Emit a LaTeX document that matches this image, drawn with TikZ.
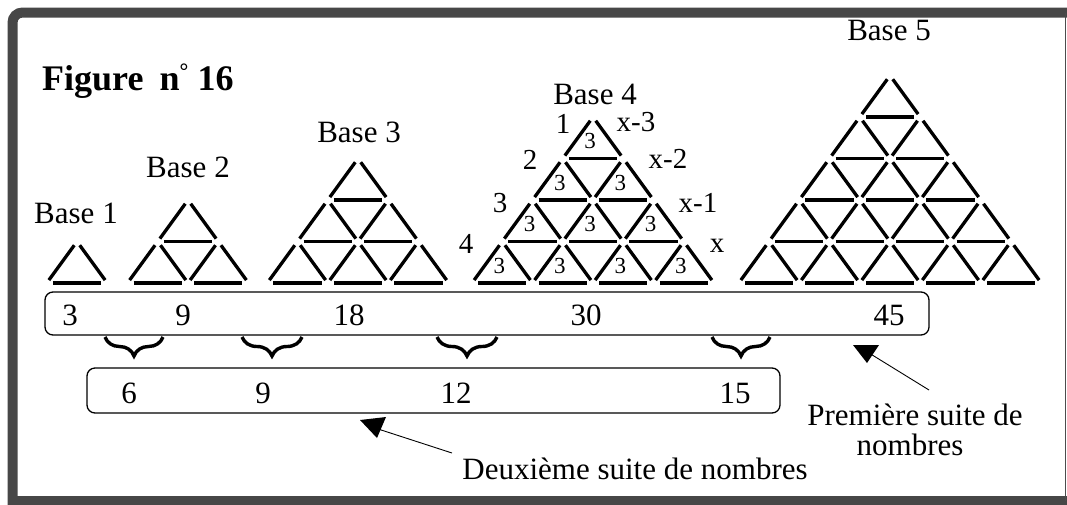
\documentclass[tikz,border=0pt]{standalone}
\usepackage{fontspec}
\setmainfont{Liberation Serif}
\usetikzlibrary{calc,decorations.pathreplacing}
\tikzset{
  stick/.style={line width=3.3pt, line cap=butt},
  lbl/.style={font=\fontsize{31}{37}\selectfont, inner sep=0pt, anchor=base},
  rowlbl/.style={font=\fontsize{29}{34}\selectfont, inner sep=0pt, anchor=base},
  tiny3/.style={font=\fontsize{23}{26}\selectfont, inner sep=0pt},
  seqbox/.style={draw, line width=1.3pt, rounded corners=8pt},
  brc/.style={decorate, decoration={brace, mirror, amplitude=19pt}, line width=3.4pt},
  frame/.style={draw=black!72, line width=10pt, line join=miter},
  pointer/.style={line width=0.9pt},
  headfill/.style={fill=black},
}
% \matchtri{centre x}{number of rows}
\newcommand\matchtri[2]{%
  \foreach \i in {1,...,#2}{%
    \foreach \j in {1,...,\i}{%
      \pgfmathsetmacro\ax{#1 + (\j - 1 - (\i-1)/2)*60.5}%
      \pgfmathsetmacro\ay{283 - (#2 - \i + 1)*41.5}%
      \coordinate (A) at (\ax,\ay);
      \coordinate (L) at (\ax-30.25,\ay+41.5);
      \coordinate (R) at (\ax+30.25,\ay+41.5);
      \draw[stick] ($(A)!0.09!(L)$) -- ($(A)!0.93!(L)$);
      \draw[stick] ($(A)!0.09!(R)$) -- ($(A)!0.93!(R)$);
      \draw[stick] ($(L)!0.1!(R)$) -- ($(L)!0.9!(R)$);
    }%
  }%
}
\begin{document}
\begin{tikzpicture}[x=1pt,y=-1pt]
\useasboundingbox (0,0) rectangle (1067,504);
% frame
\draw[frame] (1067,501) -- (12.5,501) -- (12.5,22.5)
  arc[start angle=180, end angle=270, radius=10] -- (1067,12.5);
\draw[line width=1.5pt, black!70] (1065.5,12.5) -- (1065.5,501);

% title
\node[lbl, anchor=base west, font=\fontsize{36}{42}\selectfont\bfseries] (title) at (42,90)
  {Figure\hspace{0.45em}n\raisebox{0.32em}{\fontsize{22}{24}\selectfont°}\hspace{0.25em}16};

% triangles
\matchtri{77}{1}
\matchtri{188}{2}
\matchtri{358}{3}
\matchtri{593}{4}
\matchtri{890}{5}

% base labels
\node[lbl] (b1) at (76,223) {Base 1};
\node[lbl] (b2) at (188,177) {Base 2};
\node[lbl] (b3) at (359,142) {Base 3};
\node[lbl] (b4) at (595,104) {Base 4};
\node[lbl] (b5) at (889,40) {Base 5};

% base 4 row labels
\node[rowlbl] (r1) at (563,133) {1};
\node[rowlbl] (r2) at (530,169) {2};
\node[rowlbl] (r3) at (500,212) {3};
\node[rowlbl] (r4) at (466,253) {4};
\node[rowlbl] (s1) at (636,131) {x-3};
\node[rowlbl] (s2) at (668,168) {x-2};
\node[rowlbl] (s3) at (698,212) {x-1};
\node[rowlbl] (s4) at (717,252) {x};

% small 3 in base 4
\foreach \i in {1,...,4}{%
  \foreach \j in {1,...,\i}{%
    \pgfmathsetmacro\ax{593 + (\j - 1 - (\i-1)/2)*60.5}%
    \pgfmathsetmacro\ay{283 - (4 - \i + 1)*41.5}%
    \node[tiny3] at (\ax-3,\ay+24) {3};
  }%
}

% sequence boxes
\draw[seqbox] (45,292) rectangle (929,335);
\draw[seqbox] (87,368) rectangle (780,413);

\node[lbl] (n3) at (70,325) {3};
\node[lbl] (n9) at (183,325) {9};
\node[lbl] (n18) at (349,325) {18};
\node[lbl] (n30) at (586,325) {30};
\node[lbl] (n45) at (889,325) {45};

\node[lbl] (d6) at (129,403) {6};
\node[lbl] (d9) at (263,403) {9};
\node[lbl] (d12) at (456,403) {12};
\node[lbl] (d15) at (735,403) {15};

% braces
\draw[brc] (105,337) -- (163,337);
\draw[brc] (242,337) -- (302,337);
\draw[brc] (437,337) -- (497,337);
\draw[brc] (712,337) -- (770,337);

% labels and pointers
\node[lbl] (deux) at (635,479) {Deuxième suite de nombres};
\node[lbl] (prem) at (915,425) {Première suite de};
\node[lbl] (prem2) at (910,455) {nombres};

\coordinate (tipA) at (375,428);
\coordinate (tailA) at (452,453);
\draw[pointer] (tailA) -- (tipA);
\fill[headfill] (360,420) -- (386,417) -- (377,438) -- cycle;

\coordinate (tipB) at (869,353);
\coordinate (tailB) at (929,390);
\draw[pointer] (tailB) -- (tipB);
\fill[headfill] (853,345) -- (879,345) -- (867,363) -- cycle;
\end{tikzpicture}
\end{document}
